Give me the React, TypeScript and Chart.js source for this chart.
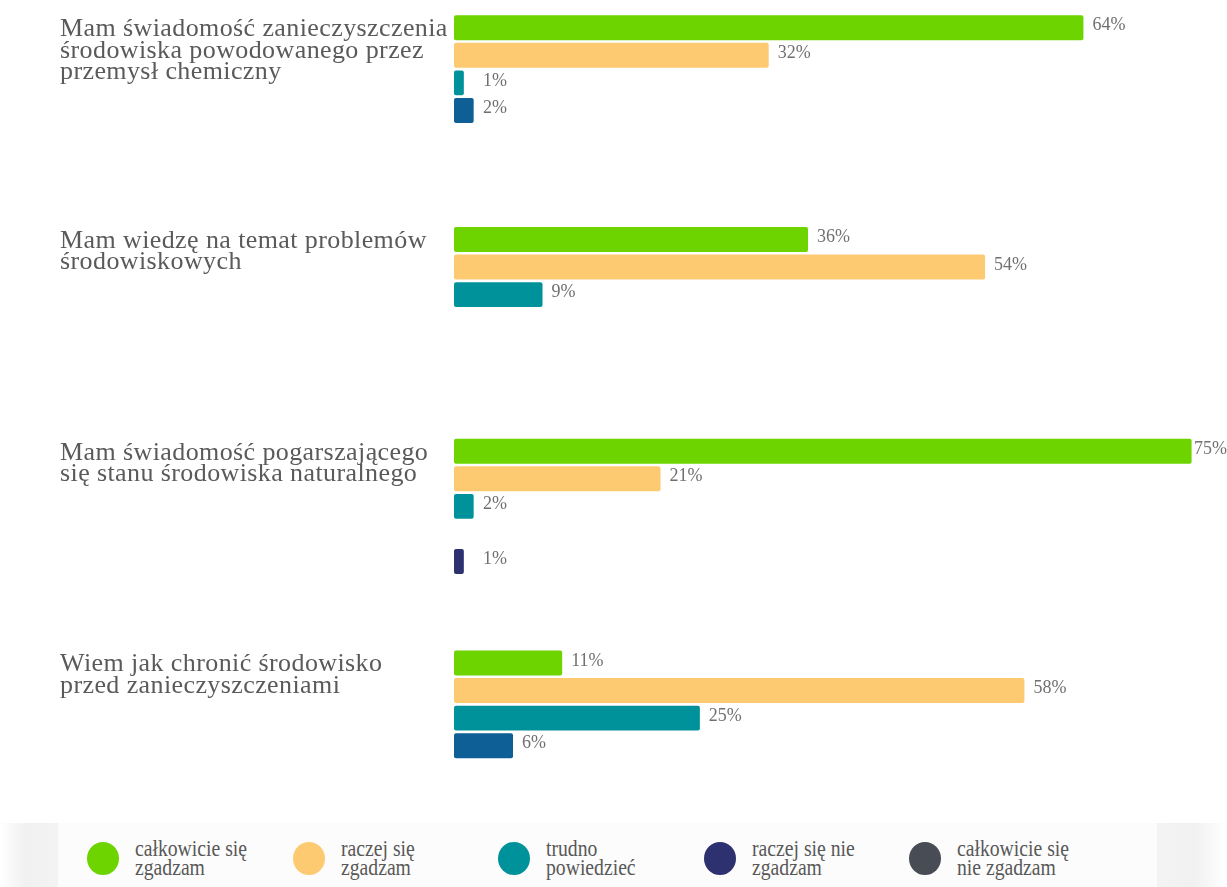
import React, { useEffect, useRef } from "react";
import { Chart, registerables } from "chart.js";

Chart.register(...registerables);

// ---- data ----
const categoryLabels: string[][] = [
  ["Mam świadomość zanieczyszczenia", "środowiska powodowanego przez", "przemysł chemiczny"],
  ["Mam wiedzę na temat problemów", "środowiskowych"],
  ["Mam świadomość pogarszającego", "się stanu środowiska naturalnego"],
  ["Wiem jak chronić środowisko", "przed zanieczyszczeniami"],
];
const seriesNames = [
  "całkowicie się zgadzam",
  "raczej się zgadzam",
  "trudno powiedzieć",
  "raczej się nie zgadzam",
  "całkowicie się nie zgadzam",
];
const legendLines: string[][] = [
  ["całkowicie się", "zgadzam"],
  ["raczej się", "zgadzam"],
  ["trudno", "powiedzieć"],
  ["raczej się nie", "zgadzam"],
  ["całkowicie się", "nie zgadzam"],
];
const fullyAgree = [64, 36, 75, 11];
const ratherAgree = [32, 54, 21, 58];
const hardToSay = [1, 9, 2, 25];
const ratherDisagree = [2, null, null, 6];
const fullyDisagree = [null, null, 1, null];

// ---- styles ----
const barColors = ["#6dd400", "#fdca72", "#00929a", "#0e5f96", "#2d3170"];
const legendColors = ["#6dd400", "#fdca72", "#00929a", "#2d3170", "#474c55"];
const SERIF = '"Liberation Serif", "Times New Roman", serif';

const labelsPlugin = {
  id: "customLabels",
  afterDatasetsDraw(chart: any) {
    const ctx = chart.ctx;
    const area = chart.chartArea;
    const W = chart.width;
    ctx.save();
    // value labels
    ctx.font = `18px ${SERIF}`;
    ctx.fillStyle = "#707070";
    ctx.textBaseline = "middle";
    ctx.textAlign = "left";
    chart.data.datasets.forEach((ds: any, di: number) => {
      const meta = chart.getDatasetMeta(di);
      meta.data.forEach((el: any, i: number) => {
        const v = ds.data[i];
        if (v === null || v === undefined) return;
        const txt = `${v}%`;
        const tw = ctx.measureText(txt).width;
        let x = Math.max(el.x + 9, area.left + 29);
        x = Math.min(x, W - tw);
        ctx.fillText(txt, x, el.y - 2);
      });
    });
    // category labels
    ctx.font = `26px ${SERIF}`;
    (ctx as any).letterSpacing = "0.4px";
    ctx.fillStyle = "#5a5a5a";
    ctx.textBaseline = "alphabetic";
    const meta0 = chart.getDatasetMeta(0);
    categoryLabels.forEach((lines, i) => {
      const el: any = meta0.data[i];
      const top = el.y - el.height / 2;
      lines.forEach((line, li) => {
        ctx.fillText(line, 60, top + 21 + li * 21.5);
      });
    });
    ctx.restore();
  },
};

export default function App() {
  const canvasRef = useRef<HTMLCanvasElement | null>(null);

  useEffect(() => {
    document.body.style.margin = "0";
    const canvas = canvasRef.current;
    if (!canvas) return;
    const seriesData = [fullyAgree, ratherAgree, hardToSay, ratherDisagree, fullyDisagree];
    const chart = new Chart(canvas, {
      type: "bar",
      data: {
        labels: categoryLabels.map((l) => l.join(" ")),
        datasets: seriesData.map((d, i) => ({
          label: seriesNames[i],
          data: d as any,
          backgroundColor: barColors[i],
          borderWidth: 0,
          borderRadius: 2,
          borderSkipped: false,
          categoryPercentage: 0.652,
          barPercentage: 0.905,
        })),
      },
      options: {
        indexAxis: "y",
        animation: false,
        responsive: true,
        maintainAspectRatio: false,
        layout: { padding: { left: 454, right: 0, top: 0, bottom: 0 } },
        scales: {
          x: { type: "linear", min: 0, max: 78.6, display: false },
          y: { type: "category", display: false, offset: true },
        },
        plugins: {
          legend: { display: false },
          tooltip: { enabled: false },
        },
      },
      plugins: [labelsPlugin],
    });
    return () => chart.destroy();
  }, []);

  return (
    <div
      style={{
        position: "fixed",
        left: 0,
        top: 0,
        width: 1227,
        height: 887,
        overflow: "hidden",
        background: "#ffffff",
      }}
    >
      <div style={{ position: "absolute", left: 0, top: -23, width: 1227, height: 847 }}>
        <canvas ref={canvasRef} />
      </div>
      {/* legend strip */}
      <div
        style={{
          position: "absolute",
          left: 0,
          top: 823,
          width: 1227,
          height: 64,
          background:
            "linear-gradient(to right, #ffffff 0px, #f1f1f1 25px, #f3f3f3 58px, #f3f3f3 1157px, #f1f1f1 1195px, #ffffff 1227px)",
        }}
      >
        <div
          style={{
            position: "absolute",
            left: 58,
            top: 0,
            width: 1099,
            height: 64,
            background: "#fcfcfc",
          }}
        />
        {legendLines.map((lines, i) => (
          <div
            key={i}
            style={{
              position: "absolute",
              left: 87 + i * 205.5,
              top: 17,
              display: "flex",
              alignItems: "center",
            }}
          >
            <div
              style={{
                width: 32,
                height: 33,
                borderRadius: "50%",
                background: legendColors[i],
                flex: "0 0 auto",
              }}
            />
            <div
              style={{
                marginLeft: 16,
                fontFamily: SERIF,
                fontSize: 24,
                lineHeight: "19px",
                color: "#585858",
                whiteSpace: "nowrap",
                transform: "scaleX(0.82)",
                transformOrigin: "left center",
                marginTop: -1,
              }}
            >
              {lines.map((l, j) => (
                <div key={j}>{l}</div>
              ))}
            </div>
          </div>
        ))}
      </div>
    </div>
  );
}
